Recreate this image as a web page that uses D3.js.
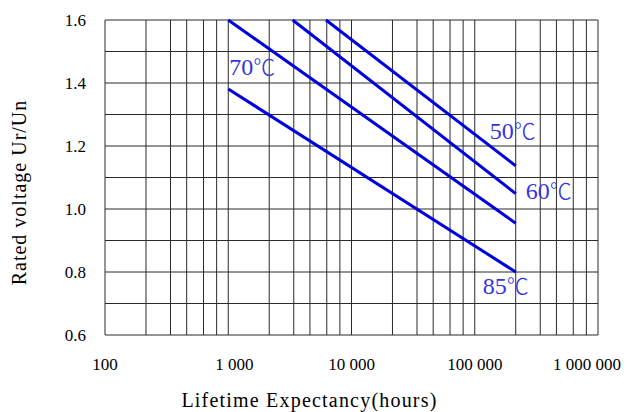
<!DOCTYPE html>
<html>
<head>
<meta charset="utf-8">
<script src="https://cdn.jsdelivr.net/npm/d3@7"></script>
<style>
  body { margin: 0; background: #fff; }
  text { font-family: "Liberation Serif", serif; }
</style>
</head>
<body>
<svg id="chart"></svg>
<script>
// decades and minor gridline multipliers
const decades = [100, 1000, 10000, 100000, 1000000];
const decadeLabels = ["100", "1 000", "10 000", "100 000", "1 000 000"];
const minorSteps = [2.15, 3.4, 4.6, 6.3, 8.05];
const yTicks = [0.6, 0.8, 1.0, 1.2, 1.4, 1.6];
const yGrid = [0.6, 0.7, 0.8, 0.9, 1.0, 1.1, 1.2, 1.3, 1.4, 1.5, 1.6];

// each curve: [hours, Ur/Un] at start and end
const temps = ["50", "60", "70", "85"];
const curve50 = [[6200, 1.6], [215000, 1.137]];
const curve60 = [[3330, 1.6], [215000, 1.049]];
const curve70 = [[1000, 1.6], [215000, 0.955]];
const curve85 = [[1000, 1.381], [215000, 0.80]];
const curves = [curve50, curve60, curve70, curve85];

const width = 627, height = 412;
const svg = d3.select("#chart").attr("width", width).attr("height", height);

const x = d3.scaleLog().domain([100, 1000000]).range([105, 598]);
const y = d3.scaleLinear().domain([0.6, 1.6]).range([335, 20]);

// grid
const xGridVals = [];
decades.forEach((d, i) => {
  xGridVals.push(d);
  if (i < decades.length - 1) minorSteps.forEach(m => xGridVals.push(d * m));
});

const grid = svg.append("g").attr("stroke", "#2a2a2a").attr("stroke-width", 1);
grid.selectAll("line.v")
  .data(xGridVals)
  .join("line")
  .attr("class", "v")
  .attr("x1", d => x(d)).attr("x2", d => x(d))
  .attr("y1", y(1.6)).attr("y2", y(0.6));
grid.selectAll("line.h")
  .data(yGrid)
  .join("line")
  .attr("class", "h")
  .attr("x1", x(100)).attr("x2", x(1000000))
  .attr("y1", d => y(d)).attr("y2", d => y(d));

// y tick labels
svg.append("g")
  .selectAll("text")
  .data(yTicks)
  .join("text")
  .attr("x", x(100) - 19)
  .attr("y", d => y(d))
  .attr("dy", "0.35em")
  .attr("text-anchor", "end")
  .style("font-size", "17px")
  .text(d => d.toFixed(1));

// x tick labels
svg.append("g")
  .selectAll("text")
  .data(decades)
  .join("text")
  .attr("x", d => x(d))
  .attr("dx", (d, i) => i === decades.length - 1 ? -11 : (i === 1 ? 6 : 0))
  .attr("y", y(0.6) + 35)
  .attr("text-anchor", "middle")
  .style("font-size", "17px")
  .text((d, i) => decadeLabels[i]);

// curves
const line = d3.line().x(d => x(d[0])).y(d => y(d[1]));
svg.append("g")
  .selectAll("path")
  .data(curves)
  .join("path")
  .attr("d", line)
  .attr("fill", "none")
  .attr("stroke", "#0000dd")
  .attr("stroke-width", 3);

// curve labels: offsets from end point (or start point for 70℃)
const labelOffsets = [[-26, -27, 1], [10, 5, 1], [1, 55, 0], [-33, 22, 1]];
const lbl = svg.append("g")
  .selectAll("text")
  .data(curves)
  .join("text")
  .attr("x", (d, i) => x(d[labelOffsets[i][2]][0]) + labelOffsets[i][0])
  .attr("y", (d, i) => y(d[labelOffsets[i][2]][1]) + labelOffsets[i][1])
  .attr("fill", "#3535dd")
  .style("font-size", "24px");
lbl.append("tspan")
  .style("font-family", "'Liberation Serif', serif")
  .text((d, i) => temps[i]);
lbl.append("tspan")
  .style("font-family", "'Noto Sans CJK SC', sans-serif")
  .style("font-size", "22px")
  .style("font-weight", "300")
  .text("℃");

// axis titles
svg.append("text")
  .attr("x", (x(100) + x(1000000)) / 2 - 42)
  .attr("y", 407)
  .attr("text-anchor", "middle")
  .style("font-size", "20px")
  .style("letter-spacing", "1.2px")
  .text("Lifetime Expectancy(hours)");

svg.append("text")
  .attr("transform", `translate(26,${(y(0.6) + y(1.6)) / 2 + 15}) rotate(-90)`)
  .attr("text-anchor", "middle")
  .style("font-size", "20px")
  .style("letter-spacing", "1px")
  .text("Rated voltage Ur/Un");
</script>
</body>
</html>
